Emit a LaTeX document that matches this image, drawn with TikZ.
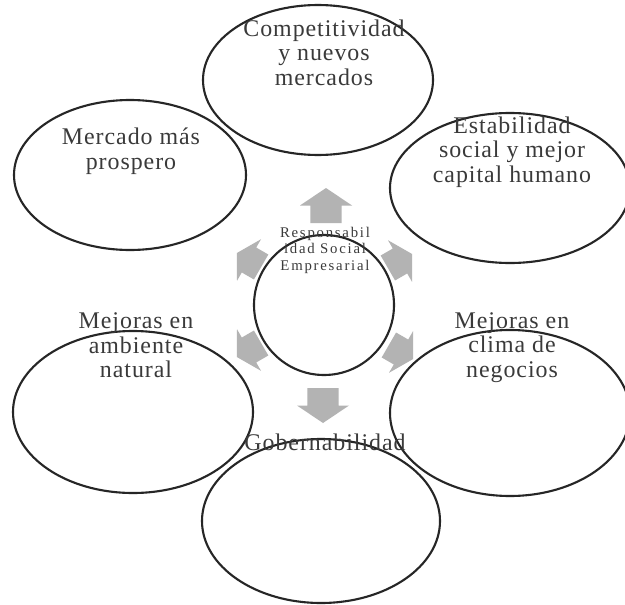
\documentclass[tikz,border=0pt]{standalone}
\usepackage{fontspec}
\setmainfont{Liberation Serif}
\definecolor{arrowgray}{HTML}{B3B3B3}
\definecolor{textgray}{HTML}{3A3A3A}
\tikzset{
  outline/.style={draw=black!85, line width=1.5pt},
  bigtxt/.style={text=textgray, align=center, inner sep=0pt,
    font=\fontsize{17}{17.4}\selectfont\addfontfeature{LetterSpace=4}},
  smalltxt/.style={text=textgray, align=center, inner sep=0pt,
    font=\fontsize{10.5}{11.7}\selectfont\addfontfeature{LetterSpace=12}}
}
\begin{document}
\begin{tikzpicture}[x=0.025cm, y=-0.025cm]
    \useasboundingbox (0,0) rectangle (625,605);
    \fill[white] (0,0) rectangle (625,605);
    \draw[outline] (318,80) ellipse (115 and 75);
    \draw[outline] (130,175) ellipse (116 and 75);
    \draw[outline] (510,188) ellipse (120 and 75);
    \draw[outline] (133,412) ellipse (120 and 81);
    \draw[outline] (510,413) ellipse (120 and 83);
    \draw[outline] (321,521) ellipse (119 and 82);
    \draw[outline] (324,305) circle (70);
    \foreach \ang/\px/\py/\len/\wid in {90/326/205.5/35/26, -90/323/405.5/35/26,
        30/400/261/28/24, 150/249/260/28/24, -30/401/352/28/24, -150/249/350/28/24}
      \fill[arrowgray, shift={(\px,\py)}, rotate=\ang]
        (-\len/2,-0.6*\wid) -- (0,-0.6*\wid) -- (0,-\wid) -- (\len/2,0)
        -- (0,\wid) -- (0,0.6*\wid) -- (-\len/2,0.6*\wid) -- cycle;
    \node[bigtxt] (compet) at (324,52.5) {Competitividad\\y nuevos\\mercados};
    \node[bigtxt] (mercado) at (131,151) {Mercado más\\prospero};
    \node[bigtxt] (estab) at (512,152) {Estabilidad\\social y mejor\\capital humano};
    \node[bigtxt] (ambiente) at (136,345.5) {Mejoras en\\ambiente\\natural};
    \node[bigtxt] (clima) at (512,347.5) {Mejoras en\\clima de\\negocios};
    \node[bigtxt] (gober) at (325,442) {Gobernabilidad};
    \node[smalltxt] (rse) at (325,250) {Responsabil\\idad Social\\Empresarial};
\end{tikzpicture}
\end{document}
